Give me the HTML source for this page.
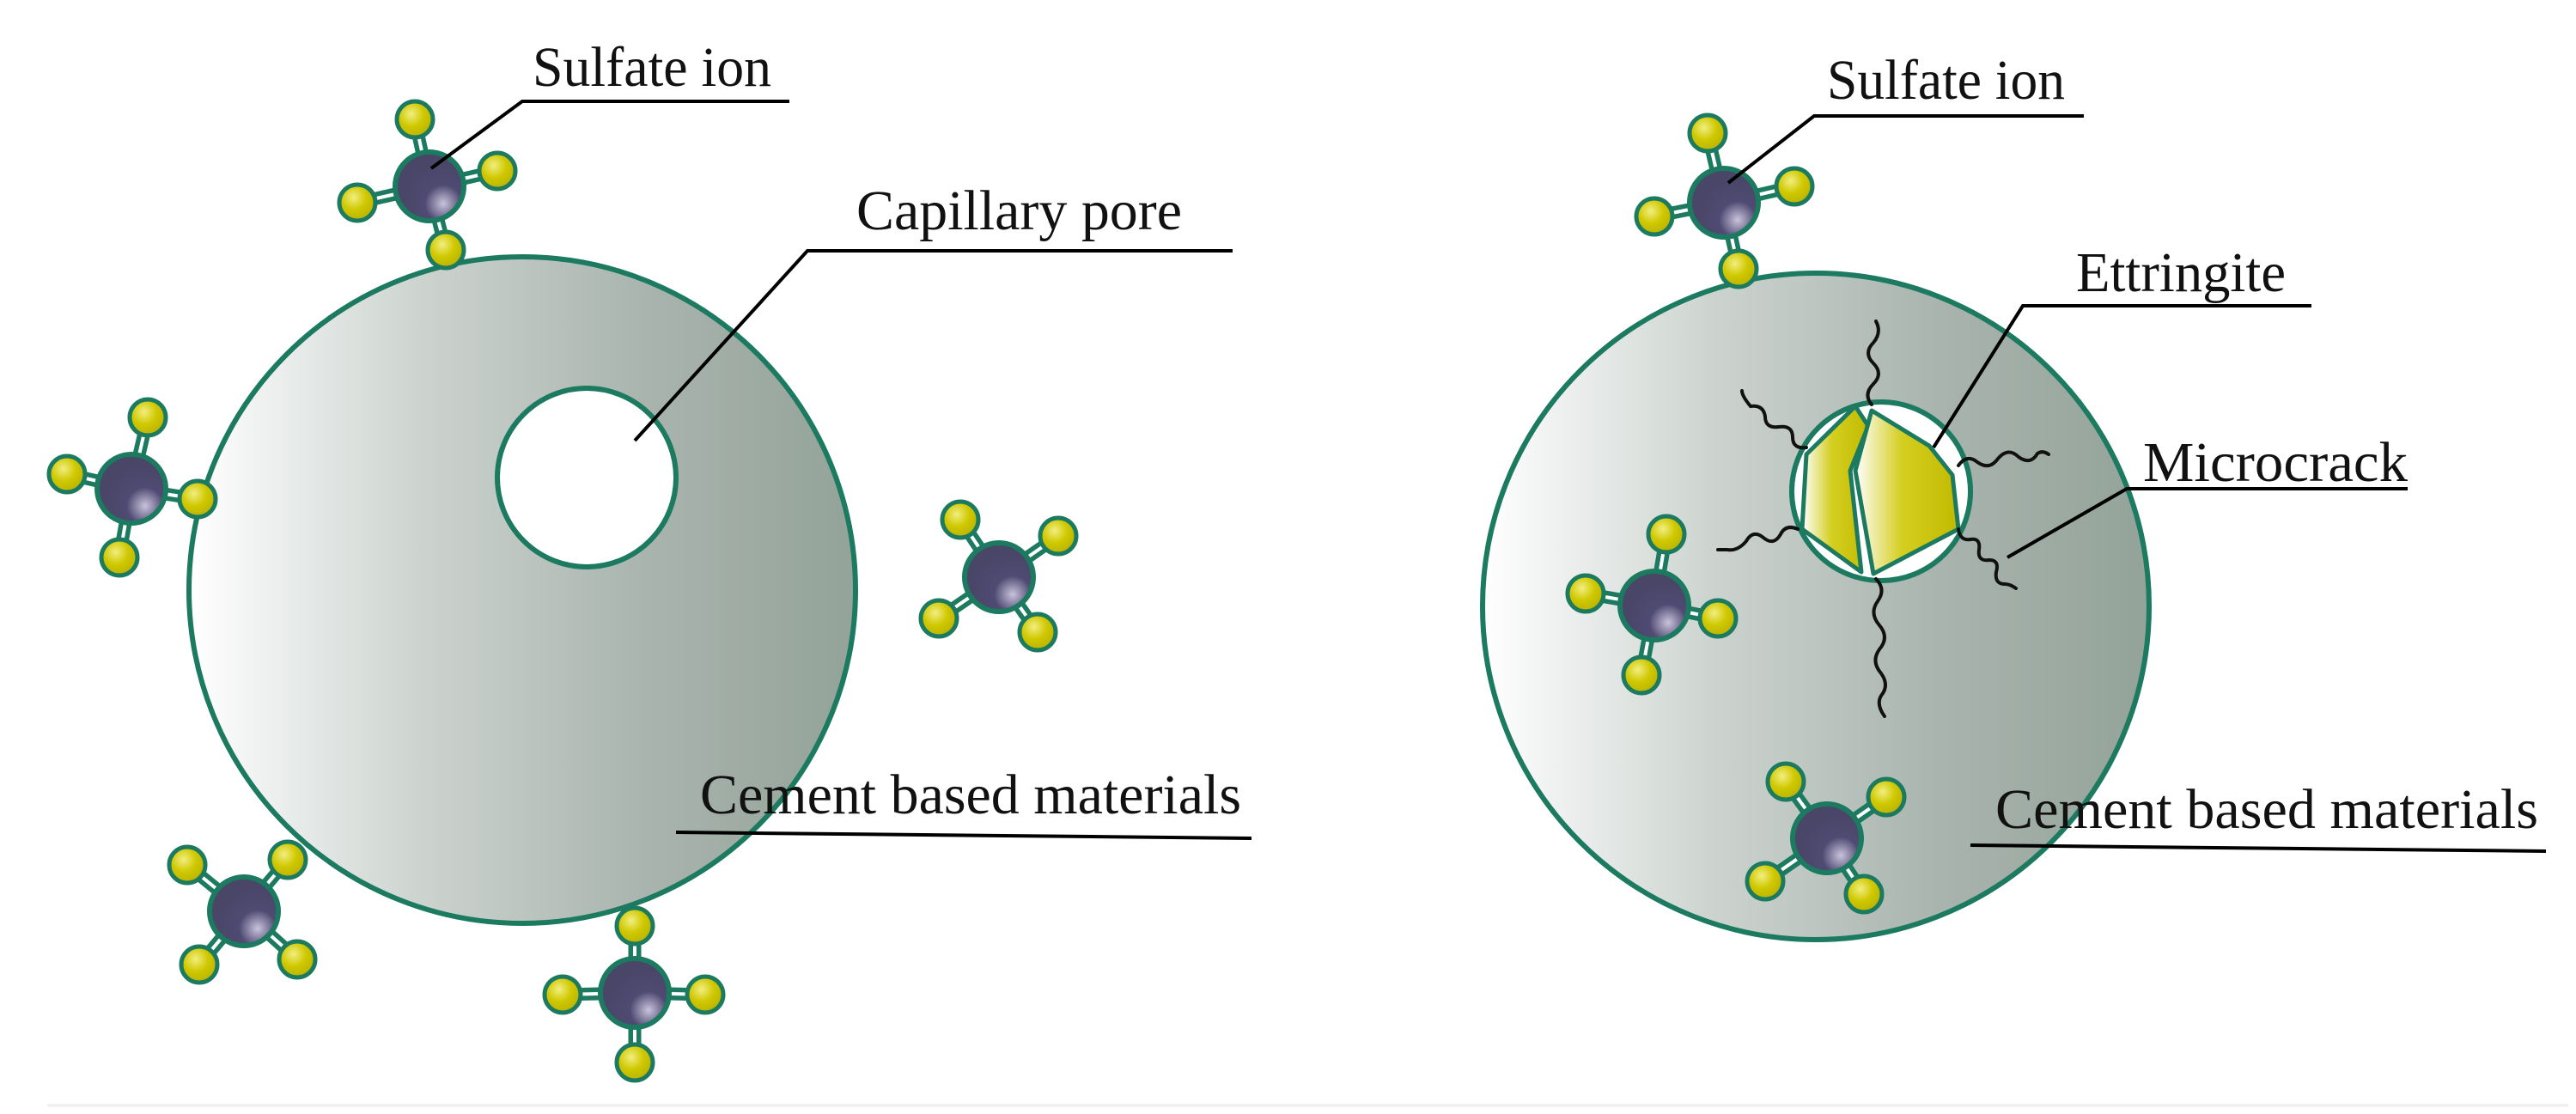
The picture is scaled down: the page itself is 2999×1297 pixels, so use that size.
<!DOCTYPE html>
<html><head><meta charset="utf-8"><style>html,body{margin:0;padding:0;background:#fff}svg{display:block}</style></head>
<body>
<svg width="2999" height="1297" viewBox="0 0 2999 1297" xmlns="http://www.w3.org/2000/svg">
<defs>
<linearGradient id="cem" x1="0" y1="0" x2="1" y2="0">
<stop offset="0" stop-color="#ffffff"/><stop offset="0.35" stop-color="#ccd3cf"/><stop offset="0.7" stop-color="#a8b3ad"/><stop offset="1" stop-color="#93a399"/>
</linearGradient>
<radialGradient id="ball" cx="0.4" cy="0.35" r="0.7">
<stop offset="0" stop-color="#f2ee80"/><stop offset="0.5" stop-color="#cfc800"/><stop offset="1" stop-color="#b8b000"/>
</radialGradient>
<radialGradient id="core" cx="0.7" cy="0.75" r="0.6">
<stop offset="0" stop-color="#c9c3dc"/><stop offset="0.45" stop-color="#4f4a72"/><stop offset="1" stop-color="#4a4668"/>
</radialGradient>
<linearGradient id="ett" x1="0" y1="0" x2="1" y2="0">
<stop offset="0" stop-color="#ffffff"/><stop offset="0.45" stop-color="#d4ce20"/><stop offset="1" stop-color="#c2ba00"/>
</linearGradient>
</defs>
<line x1="55" y1="1287" x2="2990" y2="1287" stroke="#eeeeee" stroke-width="3"/>

<circle cx="608" cy="687" r="388" fill="url(#cem)" stroke="#1b7a5f" stroke-width="6"/>
<circle cx="683" cy="556" r="104" fill="#fff" stroke="#1b7a5f" stroke-width="6"/>
<circle cx="2114" cy="706" r="388" fill="url(#cem)" stroke="#1b7a5f" stroke-width="6"/>
<circle cx="2190" cy="572" r="104" fill="#fff" stroke="#1b7a5f" stroke-width="6"/>

<g stroke="#1b7a5f" stroke-width="5" stroke-linejoin="round" fill="url(#ett)">
<polygon points="2160,473 2175,496 2154,548 2167,666 2098,616 2103,529"/>
<polygon points="2179,478 2246,519 2273,553 2280,616 2181,668 2160,548"/>
</g>
<g fill="none" stroke="#111" stroke-width="4" stroke-linecap="round">
<path d="M2179 471 q-10 -12 2 -24 q12 -12 0 -24 q-12 -12 0 -24 q10 -12 3 -25"/>
<path d="M2103 521 q-16 2 -16 -12 q0 -14 -16 -12 q-16 2 -16 -12 q-2 -14 -17 -12 q-10 -12 -10 -18"/>
<path d="M2280 542 q10 -14 22 -4 q14 10 24 -4 q12 -14 24 -2 q14 10 22 -4 q6 -4 13 1"/>
<path d="M2093 616 q-14 -6 -20 6 q-8 14 -20 4 q-12 -10 -20 4 q-10 12 -22 10 q-6 0 -11 0"/>
<path d="M2280 616 q2 14 14 12 q12 -2 10 12 q-2 14 12 12 q12 0 8 14 q-2 14 10 14 q6 0 13 5"/>
<path d="M2184 674 q12 12 2 26 q-10 14 2 28 q12 14 0 28 q-10 14 2 28 q10 14 0 26 q-6 10 4 24"/>
</g>

<g stroke-linecap="round">
<g stroke="#1b7a5f" stroke-width="15">
<path d="M500 217L483 139M500 217L579 199M500 217L416 236M500 217L519 291"/>
<path d="M153 569L172 486M153 569L78 552M153 569L230 581M153 569L139 649"/>
<path d="M1163 672L1118 605M1163 672L1232 624M1163 672L1093 720M1163 672L1208 736"/>
<path d="M284 1061L218 1007M284 1061L335 1001M284 1061L232 1123M284 1061L346 1117"/>
<path d="M739 1156L739 1078M739 1156L655 1158M739 1156L821 1158M739 1156L739 1237"/>
<path d="M2007 236L1988 155M2007 236L2089 217M2007 236L1926 252M2007 236L2024 313"/>
<path d="M1926 705L1940 622M1926 705L1846 691M1926 705L2000 720M1926 705L1911 786"/>
<path d="M2127 976L2079 910M2127 976L2196 928M2127 976L2055 1026M2127 976L2170 1041"/>
</g>
<g stroke="#fff" stroke-width="4">
<path d="M500 217L483 139M500 217L579 199M500 217L416 236M500 217L519 291"/>
<path d="M153 569L172 486M153 569L78 552M153 569L230 581M153 569L139 649"/>
<path d="M1163 672L1118 605M1163 672L1232 624M1163 672L1093 720M1163 672L1208 736"/>
<path d="M284 1061L218 1007M284 1061L335 1001M284 1061L232 1123M284 1061L346 1117"/>
<path d="M739 1156L739 1078M739 1156L655 1158M739 1156L821 1158M739 1156L739 1237"/>
<path d="M2007 236L1988 155M2007 236L2089 217M2007 236L1926 252M2007 236L2024 313"/>
<path d="M1926 705L1940 622M1926 705L1846 691M1926 705L2000 720M1926 705L1911 786"/>
<path d="M2127 976L2079 910M2127 976L2196 928M2127 976L2055 1026M2127 976L2170 1041"/>
</g>
<g fill="url(#ball)" stroke="#1b7a5f" stroke-width="5">
<circle cx="483" cy="139" r="21"/><circle cx="579" cy="199" r="21"/><circle cx="416" cy="236" r="21"/><circle cx="519" cy="291" r="21"/>
<circle cx="172" cy="486" r="21"/><circle cx="78" cy="552" r="21"/><circle cx="230" cy="581" r="21"/><circle cx="139" cy="649" r="21"/>
<circle cx="1118" cy="605" r="21"/><circle cx="1232" cy="624" r="21"/><circle cx="1093" cy="720" r="21"/><circle cx="1208" cy="736" r="21"/>
<circle cx="218" cy="1007" r="21"/><circle cx="335" cy="1001" r="21"/><circle cx="232" cy="1123" r="21"/><circle cx="346" cy="1117" r="21"/>
<circle cx="739" cy="1078" r="21"/><circle cx="655" cy="1158" r="21"/><circle cx="821" cy="1158" r="21"/><circle cx="739" cy="1237" r="21"/>
<circle cx="1988" cy="155" r="21"/><circle cx="2089" cy="217" r="21"/><circle cx="1926" cy="252" r="21"/><circle cx="2024" cy="313" r="21"/>
<circle cx="1940" cy="622" r="21"/><circle cx="1846" cy="691" r="21"/><circle cx="2000" cy="720" r="21"/><circle cx="1911" cy="786" r="21"/>
<circle cx="2079" cy="910" r="21"/><circle cx="2196" cy="928" r="21"/><circle cx="2055" cy="1026" r="21"/><circle cx="2170" cy="1041" r="21"/>
</g>
<g fill="url(#core)" stroke="#1b7a5f" stroke-width="6">
<circle cx="500" cy="217" r="40"/><circle cx="153" cy="569" r="40"/><circle cx="1163" cy="672" r="40"/>
<circle cx="284" cy="1061" r="40"/><circle cx="739" cy="1156" r="40"/>
<circle cx="2007" cy="236" r="40"/><circle cx="1926" cy="705" r="40"/><circle cx="2127" cy="976" r="40"/>
</g>
</g>

<g fill="none" stroke="#000" stroke-width="4">
<polyline points="502,196 608,118 919,118"/>
<polyline points="739,513 940,292 1435,292"/>
<polyline points="787,969 1457,976"/>
<polyline points="2012,213 2112,135 2426,135"/>
<polyline points="2251,521 2355,356 2691,356"/>
<polyline points="2337,649 2476,569 2803,569"/>
<polyline points="2294,984 2964,991"/>
</g>

<g font-family="Liberation Serif, serif" font-size="66" fill="#111">
<text x="620" y="100" textLength="278" lengthAdjust="spacingAndGlyphs">Sulfate ion</text>
<text x="997" y="267" textLength="379" lengthAdjust="spacingAndGlyphs">Capillary pore</text>
<text x="815" y="947" textLength="630" lengthAdjust="spacingAndGlyphs">Cement based materials</text>
<text x="2127" y="115" textLength="277" lengthAdjust="spacingAndGlyphs">Sulfate ion</text>
<text x="2417" y="339" textLength="244" lengthAdjust="spacingAndGlyphs">Ettringite</text>
<text x="2495" y="560" textLength="308" lengthAdjust="spacingAndGlyphs">Microcrack</text>
<text x="2323" y="964" textLength="632" lengthAdjust="spacingAndGlyphs">Cement based materials</text>
</g>
</svg>
</body></html>
